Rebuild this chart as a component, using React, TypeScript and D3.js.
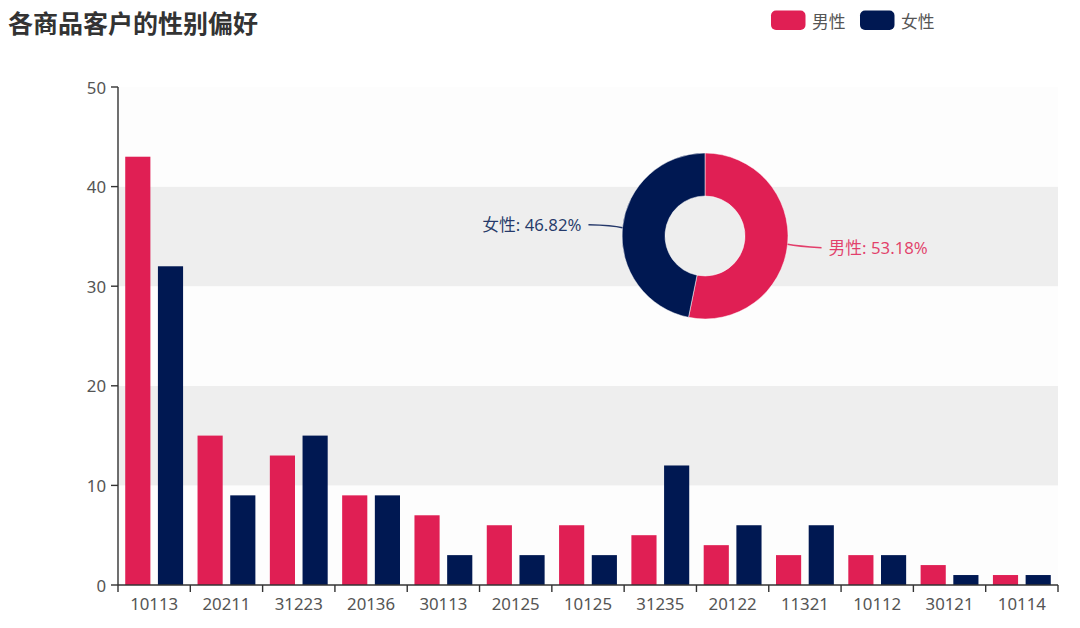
import React from 'react';
import * as d3 from 'd3';

const categories = ['10113', '20211', '31223', '20136', '30113', '20125', '10125', '31235', '20122', '11321', '10112', '30121', '10114'];
const maleValues = [43, 15, 13, 9, 7, 6, 6, 5, 4, 3, 3, 2, 1];
const femaleValues = [32, 9, 15, 9, 3, 3, 3, 12, 6, 6, 3, 1, 1];
const seriesNames = ['男性', '女性'];
const yTicks = [0, 10, 20, 30, 40, 50];
const titleText = '各商品客户的性别偏好';

const COLORS = ['#e01f54', '#001852'];
const FONT = '"Noto Sans", "Noto Sans CJK SC", sans-serif';

export default function App() {
  const W = 1080, H = 628;
  const left = 118, right = 1058, top = 87, bottom = 585;

  const x = d3.scaleBand<string>().domain(categories).range([left, right]).padding(0);
  const bw = x.bandwidth();
  const inner = d3.scaleBand<string>().domain(seriesNames).range([0, bw])
    .paddingInner(0.3 / 1.3).paddingOuter(0.1 / (1.3 * 0.8 / 2.3));
  const y = d3.scaleLinear().domain([0, 50]).range([bottom, top]);

  const series = [maleValues, femaleValues];
  const totals = series.map((s) => d3.sum(s));
  const grand = d3.sum(totals);

  const pieData = d3.pie<number>().sort(null).value((d) => d)(totals);
  const cx = 705, cy = 236, rIn = 40, rOut = 83;
  const arc = d3.arc<d3.PieArcDatum<number>>().innerRadius(rIn).outerRadius(rOut);

  const bands = [];
  for (let i = 0; i < yTicks.length - 1; i++) {
    bands.push({ y0: y(yTicks[i + 1]), y1: y(yTicks[i]), color: i % 2 === 0 ? '#fdfdfd' : '#eeeeee' });
  }

  return (
    <svg width={W} height={H} style={{ position: 'absolute', left: 0, top: 0, background: '#fff' }} fontFamily={FONT}>
      <text x={8} y={22} fontSize={25} fontWeight="bold" fill="#333" dominantBaseline="central"
        fontFamily='"Noto Sans CJK SC", sans-serif'>{titleText}</text>

      {/* legend */}
      {seriesNames.map((n, i) => {
        const lx = 771 + i * 89;
        return (
          <g key={n}>
            <rect x={lx} y={10.5} width={34.5} height={19.5} rx={5} fill={COLORS[i]} />
            <text x={lx + 41} y={20.5} fontSize={16.8} fill="#555" dominantBaseline="central"
              fontFamily='"Noto Sans CJK SC", sans-serif'>{n}</text>
          </g>
        );
      })}

      {/* split areas */}
      {bands.map((b, i) => (
        <rect key={i} x={left} y={b.y0} width={right - left} height={b.y1 - b.y0} fill={b.color} />
      ))}

      {/* bars */}
      {series.map((vals, si) => (
        <g key={si} fill={COLORS[si]}>
          {vals.map((v, ci) => (
            <rect key={ci} x={(x(categories[ci]) as number) + (inner(seriesNames[si]) as number)}
              y={y(v)} width={inner.bandwidth()} height={y(0) - y(v)} />
          ))}
        </g>
      ))}

      {/* y axis */}
      <line x1={left} x2={left} y1={top} y2={bottom} stroke="#333" strokeWidth={1.4} />
      {yTicks.map((t) => (
        <g key={t}>
          <line x1={left - 7} x2={left} y1={y(t)} y2={y(t)} stroke="#333" strokeWidth={1.4} />
          <text x={left - 12} y={y(t)} fontSize={16.8} fill="#555" textAnchor="end" dominantBaseline="central">{t}</text>
        </g>
      ))}

      {/* x axis */}
      <line x1={left} x2={right} y1={bottom} y2={bottom} stroke="#333" strokeWidth={1.4} />
      {categories.map((c) => (
        <line key={'t' + c} x1={x(c) as number} x2={x(c) as number} y1={bottom} y2={bottom + 7} stroke="#333" strokeWidth={1.4} />
      ))}
      <line x1={right} x2={right} y1={bottom} y2={bottom + 7} stroke="#333" strokeWidth={1.4} />
      {categories.map((c) => (
        <text key={'l' + c} x={(x(c) as number) + bw / 2} y={603} fontSize={16.8} fill="#555"
          textAnchor="middle" dominantBaseline="central">{c}</text>
      ))}

      {/* pie */}
      <g transform={`translate(${cx},${cy})`}>
        {pieData.map((d, i) => (
          <path key={i} d={arc(d) as string} fill={COLORS[i]} stroke="#fff" strokeWidth={0.5} />
        ))}
        {pieData.map((d, i) => {
          const mid = (d.startAngle + d.endAngle) / 2;
          const sx = Math.sin(mid), sy = -Math.cos(mid);
          const p0 = [rOut * sx, rOut * sy];
          const p1 = [(rOut + 10) * sx, (rOut + 10) * sy + (sx > 0 ? 1 : -1.5)];
          const side = sx > 0 ? 1 : -1;
          const p2 = [p1[0] + side * 24, p1[1] + (sx > 0 ? 1.5 : -0.5)];
          const pct = ((totals[i] / grand) * 100).toFixed(2);
          return (
            <g key={'lab' + i}>
              <path d={`M${p0[0]},${p0[1]} Q${p1[0]},${p1[1]} ${p2[0]},${p2[1]}`} fill="none"
                stroke={COLORS[i]} strokeOpacity={0.85} strokeWidth={1.4} />
              <text x={p2[0] + side * 7} y={p2[1]} fontSize={16.8} fill={COLORS[i]} fillOpacity={0.85}
                textAnchor={side > 0 ? 'start' : 'end'} dominantBaseline="central">
                {`${seriesNames[i]}: ${pct}%`}
              </text>
            </g>
          );
        })}
      </g>
    </svg>
  );
}
